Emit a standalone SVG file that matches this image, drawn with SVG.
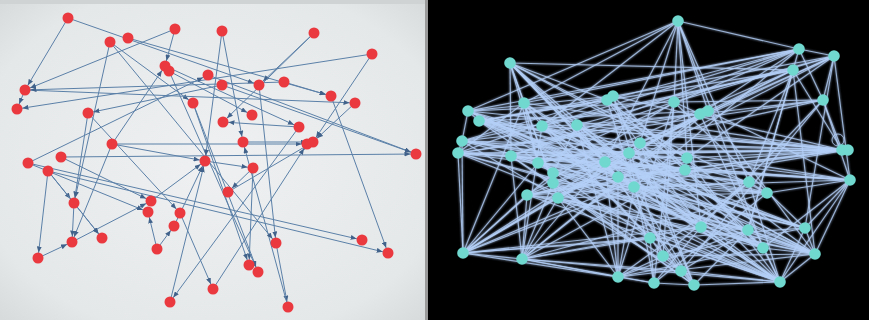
<svg xmlns="http://www.w3.org/2000/svg" width="869" height="320" viewBox="0 0 869 320">
<style>
.le{stroke:#5b80a8;stroke-width:1;fill:none;marker-end:url(#ah)}
.ln{fill:#ea3a40}
.re line{stroke:#b4cff8;stroke-width:1.15;stroke-opacity:.8}
.rn{fill:#70d8cf}
</style>
<defs>
<marker id="ah" viewBox="0 0 6 5" refX="11.5" refY="2.5" markerWidth="6" markerHeight="5" markerUnits="userSpaceOnUse" orient="auto"><path d="M0,0L6,2.5L0,5z" fill="#41628a"/></marker>
<radialGradient id="bgL" cx="50%" cy="50%" r="70%"><stop offset="0" stop-color="#eef0f1"/><stop offset="0.8" stop-color="#e5e8e9"/><stop offset="1" stop-color="#d7dbdc"/></radialGradient>
<filter id="glow" x="-5%" y="-5%" width="110%" height="110%"><feGaussianBlur stdDeviation="1.2" result="b"/><feMerge><feMergeNode in="b"/><feMergeNode in="SourceGraphic"/></feMerge></filter>
</defs>
<rect x="0" y="0" width="426" height="320" fill="url(#bgL)"/>
<rect x="0" y="0" width="426" height="4" fill="#d0d3d4"/>
<rect x="425" y="0" width="3" height="320" fill="#9a9a9a"/>
<rect x="428" y="0" width="441" height="320" fill="#000"/>

<g id="connectors-left">
<line class="le" x1="68" y1="18" x2="25" y2="90"/>
<line class="le" x1="68" y1="18" x2="259" y2="85"/>
<line class="le" x1="175" y1="29" x2="25" y2="90"/>
<line class="le" x1="175" y1="29" x2="165" y2="66"/>
<line class="le" x1="128" y1="38" x2="331" y2="96"/>
<line class="le" x1="110" y1="42" x2="193" y2="103"/>
<line class="le" x1="110" y1="42" x2="74" y2="203"/>
<line class="le" x1="25" y1="90" x2="17" y2="109"/>
<line class="le" x1="372" y1="54" x2="17" y2="109"/>
<line class="le" x1="25" y1="90" x2="355" y2="103"/>
<line class="le" x1="284" y1="82" x2="25" y2="90"/>
<line class="le" x1="222" y1="85" x2="88" y2="113"/>
<line class="le" x1="88" y1="113" x2="180" y2="213"/>
<line class="le" x1="112" y1="144" x2="307" y2="144"/>
<line class="le" x1="112" y1="144" x2="165" y2="66"/>
<line class="le" x1="112" y1="144" x2="205" y2="161"/>
<line class="le" x1="165" y1="66" x2="299" y2="127"/>
<line class="le" x1="169" y1="71" x2="252" y2="115"/>
<line class="le" x1="28" y1="163" x2="362" y2="240"/>
<line class="le" x1="48" y1="171" x2="388" y2="253"/>
<line class="le" x1="48" y1="171" x2="38" y2="258"/>
<line class="le" x1="48" y1="171" x2="74" y2="203"/>
<line class="le" x1="74" y1="203" x2="102" y2="238"/>
<line class="le" x1="74" y1="203" x2="72" y2="242"/>
<line class="le" x1="38" y1="258" x2="72" y2="242"/>
<line class="le" x1="72" y1="242" x2="151" y2="201"/>
<line class="le" x1="151" y1="201" x2="205" y2="161"/>
<line class="le" x1="61" y1="157" x2="151" y2="201"/>
<line class="le" x1="61" y1="157" x2="416" y2="154"/>
<line class="le" x1="157" y1="249" x2="174" y2="226"/>
<line class="le" x1="174" y1="226" x2="205" y2="161"/>
<line class="le" x1="180" y1="213" x2="213" y2="289"/>
<line class="le" x1="170" y1="302" x2="205" y2="161"/>
<line class="le" x1="299" y1="127" x2="170" y2="302"/>
<line class="le" x1="213" y1="289" x2="307" y2="144"/>
<line class="le" x1="205" y1="161" x2="253" y2="168"/>
<line class="le" x1="253" y1="168" x2="228" y2="192"/>
<line class="le" x1="253" y1="168" x2="249" y2="265"/>
<line class="le" x1="228" y1="192" x2="313" y2="142"/>
<line class="le" x1="276" y1="243" x2="288" y2="307"/>
<line class="le" x1="288" y1="307" x2="243" y2="142"/>
<line class="le" x1="331" y1="96" x2="388" y2="253"/>
<line class="le" x1="193" y1="103" x2="249" y2="265"/>
<line class="le" x1="169" y1="71" x2="258" y2="272"/>
<line class="le" x1="222" y1="31" x2="243" y2="142"/>
<line class="le" x1="222" y1="31" x2="205" y2="161"/>
<line class="le" x1="314" y1="33" x2="259" y2="85"/>
<line class="le" x1="314" y1="33" x2="223" y2="122"/>
<line class="le" x1="372" y1="54" x2="313" y2="142"/>
<line class="le" x1="284" y1="82" x2="331" y2="96"/>
<line class="le" x1="259" y1="85" x2="276" y2="243"/>
<line class="le" x1="299" y1="127" x2="223" y2="122"/>
<line class="le" x1="243" y1="142" x2="312" y2="142"/>
<line class="le" x1="208" y1="75" x2="416" y2="154"/>
<line class="le" x1="28" y1="163" x2="208" y2="75"/>
<line class="le" x1="110" y1="42" x2="276" y2="243"/>
<line class="le" x1="193" y1="103" x2="258" y2="272"/>
<line class="le" x1="48" y1="171" x2="102" y2="238"/>
<line class="le" x1="88" y1="113" x2="74" y2="203"/>
<line class="le" x1="112" y1="144" x2="72" y2="242"/>
<line class="le" x1="222" y1="85" x2="416" y2="154"/>
<line class="le" x1="355" y1="103" x2="313" y2="142"/>
<line class="le" x1="157" y1="249" x2="148" y2="212"/>
<line class="le" x1="28" y1="163" x2="148" y2="212"/>
</g>

<g id="nodes-left" class="ln">
<g id="a1"><circle cx="68" cy="18" r="5.5"/></g>
<g id="a2"><circle cx="175" cy="29" r="5.5"/></g>
<g id="a3"><circle cx="222" cy="31" r="5.5"/></g>
<g id="a4"><circle cx="314" cy="33" r="5.5"/></g>
<g id="a5"><circle cx="110" cy="42" r="5.5"/></g>
<g id="a6"><circle cx="128" cy="38" r="5.5"/></g>
<g id="a7"><circle cx="372" cy="54" r="5.5"/></g>
<g id="a8"><circle cx="165" cy="66" r="5.5"/></g>
<g id="a9"><circle cx="169" cy="71" r="5.5"/></g>
<g id="a10"><circle cx="208" cy="75" r="5.5"/></g>
<g id="a11"><circle cx="25" cy="90" r="5.5"/></g>
<g id="a12"><circle cx="222" cy="85" r="5.5"/></g>
<g id="a13"><circle cx="259" cy="85" r="5.5"/></g>
<g id="a14"><circle cx="284" cy="82" r="5.5"/></g>
<g id="a15"><circle cx="17" cy="109" r="5.5"/></g>
<g id="a16"><circle cx="193" cy="103" r="5.5"/></g>
<g id="a17"><circle cx="88" cy="113" r="5.5"/></g>
<g id="a18"><circle cx="331" cy="96" r="5.5"/></g>
<g id="a19"><circle cx="355" cy="103" r="5.5"/></g>
<g id="a20"><circle cx="252" cy="115" r="5.5"/></g>
<g id="a21"><circle cx="223" cy="122" r="5.5"/></g>
<g id="a22"><circle cx="299" cy="127" r="5.5"/></g>
<g id="a23"><circle cx="112" cy="144" r="5.5"/></g>
<g id="a24"><circle cx="243" cy="142" r="5.5"/></g>
<g id="a25"><circle cx="307" cy="144" r="5.5"/></g>
<g id="a26"><circle cx="313" cy="142" r="5.5"/></g>
<g id="a27"><circle cx="416" cy="154" r="5.5"/></g>
<g id="a28"><circle cx="61" cy="157" r="5.5"/></g>
<g id="a29"><circle cx="28" cy="163" r="5.5"/></g>
<g id="a30"><circle cx="205" cy="161" r="5.5"/></g>
<g id="a31"><circle cx="48" cy="171" r="5.5"/></g>
<g id="a32"><circle cx="253" cy="168" r="5.5"/></g>
<g id="a33"><circle cx="228" cy="192" r="5.5"/></g>
<g id="a34"><circle cx="74" cy="203" r="5.5"/></g>
<g id="a35"><circle cx="151" cy="201" r="5.5"/></g>
<g id="a36"><circle cx="148" cy="212" r="5.5"/></g>
<g id="a37"><circle cx="180" cy="213" r="5.5"/></g>
<g id="a38"><circle cx="174" cy="226" r="5.5"/></g>
<g id="a39"><circle cx="102" cy="238" r="5.5"/></g>
<g id="a40"><circle cx="72" cy="242" r="5.5"/></g>
<g id="a41"><circle cx="157" cy="249" r="5.5"/></g>
<g id="a42"><circle cx="276" cy="243" r="5.5"/></g>
<g id="a43"><circle cx="362" cy="240" r="5.5"/></g>
<g id="a44"><circle cx="38" cy="258" r="5.5"/></g>
<g id="a45"><circle cx="388" cy="253" r="5.5"/></g>
<g id="a46"><circle cx="249" cy="265" r="5.5"/></g>
<g id="a47"><circle cx="258" cy="272" r="5.5"/></g>
<g id="a48"><circle cx="213" cy="289" r="5.5"/></g>
<g id="a49"><circle cx="170" cy="302" r="5.5"/></g>
<g id="a50"><circle cx="288" cy="307" r="5.5"/></g>
</g>

<g id="connectors-right" class="re" filter="url(#glow)">
<line x1="678" y1="21" x2="524" y2="103"/><line x1="678" y1="21" x2="468" y2="111"/><line x1="678" y1="21" x2="674" y2="102"/><line x1="678" y1="21" x2="708" y2="111"/><line x1="678" y1="21" x2="749" y2="182"/><line x1="678" y1="21" x2="687" y2="158"/><line x1="678" y1="21" x2="701" y2="227"/><line x1="678" y1="21" x2="640" y2="143"/><line x1="678" y1="21" x2="799" y2="49"/><line x1="678" y1="21" x2="605" y2="162"/><line x1="678" y1="21" x2="763" y2="248"/><line x1="678" y1="21" x2="542" y2="126"/>
<line x1="799" y1="49" x2="834" y2="56"/><line x1="799" y1="49" x2="468" y2="111"/><line x1="799" y1="49" x2="524" y2="103"/><line x1="799" y1="49" x2="542" y2="126"/><line x1="799" y1="49" x2="607" y2="100"/><line x1="799" y1="49" x2="700" y2="114"/><line x1="799" y1="49" x2="511" y2="156"/><line x1="799" y1="49" x2="538" y2="163"/><line x1="799" y1="49" x2="748" y2="230"/><line x1="799" y1="49" x2="823" y2="100"/><line x1="799" y1="49" x2="634" y2="187"/>
<line x1="834" y1="56" x2="823" y2="100"/><line x1="834" y1="56" x2="577" y2="125"/><line x1="834" y1="56" x2="640" y2="143"/><line x1="834" y1="56" x2="687" y2="158"/><line x1="834" y1="56" x2="479" y2="121"/><line x1="834" y1="56" x2="605" y2="162"/><line x1="834" y1="56" x2="805" y2="228"/><line x1="834" y1="56" x2="674" y2="102"/><line x1="834" y1="56" x2="558" y2="198"/><line x1="834" y1="56" x2="850" y2="180"/>
<line x1="510" y1="63" x2="793" y2="70"/><line x1="510" y1="63" x2="577" y2="125"/><line x1="510" y1="63" x2="607" y2="100"/><line x1="510" y1="63" x2="605" y2="162"/><line x1="510" y1="63" x2="618" y2="177"/><line x1="510" y1="63" x2="634" y2="187"/><line x1="510" y1="63" x2="687" y2="158"/><line x1="510" y1="63" x2="511" y2="156"/><line x1="510" y1="63" x2="538" y2="163"/><line x1="510" y1="63" x2="553" y2="183"/><line x1="510" y1="63" x2="701" y2="227"/><line x1="510" y1="63" x2="767" y2="193"/><line x1="510" y1="63" x2="524" y2="103"/>
<line x1="793" y1="70" x2="842" y2="150"/><line x1="793" y1="70" x2="749" y2="182"/><line x1="793" y1="70" x2="748" y2="230"/><line x1="793" y1="70" x2="542" y2="126"/><line x1="793" y1="70" x2="479" y2="121"/><line x1="793" y1="70" x2="462" y2="141"/><line x1="793" y1="70" x2="708" y2="111"/><line x1="793" y1="70" x2="815" y2="254"/><line x1="793" y1="70" x2="553" y2="173"/><line x1="793" y1="70" x2="629" y2="153"/>
<line x1="607" y1="100" x2="613" y2="96"/><line x1="613" y1="96" x2="462" y2="141"/><line x1="607" y1="100" x2="458" y2="153"/><line x1="607" y1="100" x2="650" y2="238"/><line x1="613" y1="96" x2="663" y2="256"/><line x1="607" y1="100" x2="685" y2="170"/><line x1="613" y1="96" x2="842" y2="150"/><line x1="607" y1="100" x2="701" y2="227"/><line x1="613" y1="96" x2="694" y2="285"/><line x1="607" y1="100" x2="479" y2="121"/><line x1="613" y1="96" x2="468" y2="111"/>
<line x1="524" y1="103" x2="542" y2="126"/><line x1="524" y1="103" x2="458" y2="153"/><line x1="524" y1="103" x2="558" y2="198"/><line x1="524" y1="103" x2="842" y2="150"/><line x1="524" y1="103" x2="763" y2="248"/><line x1="524" y1="103" x2="538" y2="163"/><line x1="524" y1="103" x2="650" y2="238"/><line x1="524" y1="103" x2="463" y2="253"/>
<line x1="823" y1="100" x2="842" y2="150"/><line x1="823" y1="100" x2="458" y2="153"/><line x1="823" y1="100" x2="462" y2="141"/><line x1="823" y1="100" x2="674" y2="102"/><line x1="823" y1="100" x2="850" y2="180"/><line x1="823" y1="100" x2="538" y2="163"/><line x1="823" y1="100" x2="701" y2="227"/><line x1="823" y1="100" x2="681" y2="271"/>
<line x1="674" y1="102" x2="700" y2="114"/><line x1="674" y1="102" x2="468" y2="111"/><line x1="674" y1="102" x2="511" y2="156"/><line x1="674" y1="102" x2="663" y2="256"/><line x1="674" y1="102" x2="654" y2="283"/><line x1="674" y1="102" x2="527" y2="195"/><line x1="674" y1="102" x2="805" y2="228"/>
<line x1="700" y1="114" x2="708" y2="111"/><line x1="700" y1="114" x2="458" y2="153"/><line x1="700" y1="114" x2="780" y2="282"/><line x1="700" y1="114" x2="558" y2="198"/><line x1="700" y1="114" x2="522" y2="259"/>
<line x1="708" y1="111" x2="479" y2="121"/><line x1="708" y1="111" x2="815" y2="254"/><line x1="708" y1="111" x2="850" y2="180"/><line x1="708" y1="111" x2="553" y2="183"/>
<line x1="468" y1="111" x2="479" y2="121"/><line x1="468" y1="111" x2="462" y2="141"/><line x1="468" y1="111" x2="848" y2="150"/><line x1="468" y1="111" x2="748" y2="230"/><line x1="468" y1="111" x2="767" y2="193"/><line x1="468" y1="111" x2="634" y2="187"/><line x1="468" y1="111" x2="618" y2="177"/>
<line x1="479" y1="121" x2="842" y2="150"/><line x1="479" y1="121" x2="763" y2="248"/><line x1="479" y1="121" x2="780" y2="282"/><line x1="479" y1="121" x2="805" y2="228"/><line x1="479" y1="121" x2="685" y2="170"/><line x1="479" y1="121" x2="640" y2="143"/>
<line x1="542" y1="126" x2="577" y2="125"/><line x1="542" y1="126" x2="848" y2="150"/><line x1="542" y1="126" x2="780" y2="282"/><line x1="542" y1="126" x2="805" y2="228"/><line x1="542" y1="126" x2="749" y2="182"/><line x1="542" y1="126" x2="618" y2="177"/><line x1="542" y1="126" x2="522" y2="259"/>
<line x1="577" y1="125" x2="842" y2="150"/><line x1="577" y1="125" x2="618" y2="277"/><line x1="577" y1="125" x2="815" y2="254"/><line x1="577" y1="125" x2="701" y2="227"/><line x1="577" y1="125" x2="553" y2="173"/><line x1="577" y1="125" x2="700" y2="114"/>
<line x1="462" y1="141" x2="458" y2="153"/><line x1="462" y1="141" x2="463" y2="253"/><line x1="462" y1="141" x2="842" y2="150"/><line x1="462" y1="141" x2="767" y2="193"/><line x1="462" y1="141" x2="681" y2="271"/><line x1="462" y1="141" x2="687" y2="158"/>
<line x1="458" y1="153" x2="511" y2="156"/><line x1="458" y1="153" x2="848" y2="150"/><line x1="458" y1="153" x2="748" y2="230"/><line x1="458" y1="153" x2="815" y2="254"/><line x1="458" y1="153" x2="780" y2="282"/><line x1="458" y1="153" x2="605" y2="162"/><line x1="458" y1="153" x2="463" y2="253"/>
<line x1="640" y1="143" x2="629" y2="153"/><line x1="640" y1="143" x2="842" y2="150"/><line x1="640" y1="143" x2="538" y2="163"/><line x1="640" y1="143" x2="694" y2="285"/><line x1="640" y1="143" x2="763" y2="248"/>
<line x1="629" y1="153" x2="848" y2="150"/><line x1="629" y1="153" x2="463" y2="253"/><line x1="629" y1="153" x2="850" y2="180"/><line x1="629" y1="153" x2="654" y2="283"/><line x1="629" y1="153" x2="527" y2="195"/>
<line x1="511" y1="156" x2="842" y2="150"/><line x1="511" y1="156" x2="850" y2="180"/><line x1="511" y1="156" x2="805" y2="228"/><line x1="511" y1="156" x2="694" y2="285"/><line x1="511" y1="156" x2="522" y2="259"/><line x1="511" y1="156" x2="538" y2="163"/><line x1="511" y1="156" x2="749" y2="182"/>
<line x1="687" y1="158" x2="685" y2="170"/><line x1="687" y1="158" x2="848" y2="150"/><line x1="687" y1="158" x2="458" y2="153"/><line x1="687" y1="158" x2="463" y2="253"/><line x1="687" y1="158" x2="780" y2="282"/>
<line x1="685" y1="170" x2="462" y2="141"/><line x1="685" y1="170" x2="850" y2="180"/><line x1="685" y1="170" x2="522" y2="259"/><line x1="685" y1="170" x2="527" y2="195"/><line x1="685" y1="170" x2="763" y2="248"/>
<line x1="538" y1="163" x2="553" y2="173"/><line x1="538" y1="163" x2="850" y2="180"/><line x1="538" y1="163" x2="815" y2="254"/><line x1="538" y1="163" x2="780" y2="282"/><line x1="538" y1="163" x2="463" y2="253"/><line x1="538" y1="163" x2="763" y2="248"/>
<line x1="553" y1="173" x2="553" y2="183"/><line x1="553" y1="173" x2="842" y2="150"/><line x1="553" y1="173" x2="805" y2="228"/><line x1="553" y1="173" x2="463" y2="253"/>
<line x1="553" y1="183" x2="767" y2="193"/><line x1="553" y1="183" x2="780" y2="282"/><line x1="553" y1="183" x2="694" y2="285"/><line x1="553" y1="183" x2="522" y2="259"/><line x1="553" y1="183" x2="748" y2="230"/>
<line x1="605" y1="162" x2="618" y2="177"/><line x1="605" y1="162" x2="850" y2="180"/><line x1="605" y1="162" x2="815" y2="254"/><line x1="605" y1="162" x2="463" y2="253"/><line x1="605" y1="162" x2="522" y2="259"/><line x1="605" y1="162" x2="618" y2="277"/><line x1="605" y1="162" x2="681" y2="271"/>
<line x1="618" y1="177" x2="634" y2="187"/><line x1="618" y1="177" x2="842" y2="150"/><line x1="618" y1="177" x2="780" y2="282"/><line x1="618" y1="177" x2="763" y2="248"/><line x1="618" y1="177" x2="618" y2="277"/><line x1="618" y1="177" x2="527" y2="195"/>
<line x1="634" y1="187" x2="850" y2="180"/><line x1="634" y1="187" x2="805" y2="228"/><line x1="634" y1="187" x2="815" y2="254"/><line x1="634" y1="187" x2="463" y2="253"/><line x1="634" y1="187" x2="618" y2="277"/><line x1="634" y1="187" x2="694" y2="285"/>
<line x1="527" y1="195" x2="558" y2="198"/><line x1="527" y1="195" x2="749" y2="182"/><line x1="527" y1="195" x2="748" y2="230"/><line x1="527" y1="195" x2="463" y2="253"/><line x1="527" y1="195" x2="522" y2="259"/><line x1="527" y1="195" x2="780" y2="282"/><line x1="527" y1="195" x2="815" y2="254"/>
<line x1="558" y1="198" x2="767" y2="193"/><line x1="558" y1="198" x2="763" y2="248"/><line x1="558" y1="198" x2="463" y2="253"/><line x1="558" y1="198" x2="522" y2="259"/><line x1="558" y1="198" x2="618" y2="277"/><line x1="558" y1="198" x2="815" y2="254"/><line x1="558" y1="198" x2="780" y2="282"/>
<line x1="749" y1="182" x2="767" y2="193"/><line x1="749" y1="182" x2="780" y2="282"/><line x1="749" y1="182" x2="618" y2="277"/><line x1="749" y1="182" x2="663" y2="256"/>
<line x1="767" y1="193" x2="654" y2="283"/><line x1="767" y1="193" x2="522" y2="259"/><line x1="767" y1="193" x2="850" y2="180"/>
<line x1="850" y1="180" x2="815" y2="254"/><line x1="850" y1="180" x2="805" y2="228"/><line x1="850" y1="180" x2="780" y2="282"/><line x1="850" y1="180" x2="763" y2="248"/>
<line x1="701" y1="227" x2="748" y2="230"/><line x1="701" y1="227" x2="780" y2="282"/><line x1="701" y1="227" x2="522" y2="259"/><line x1="701" y1="227" x2="654" y2="283"/><line x1="701" y1="227" x2="463" y2="253"/>
<line x1="748" y1="230" x2="815" y2="254"/><line x1="748" y1="230" x2="694" y2="285"/><line x1="748" y1="230" x2="618" y2="277"/><line x1="748" y1="230" x2="681" y2="271"/>
<line x1="805" y1="228" x2="815" y2="254"/><line x1="805" y1="228" x2="780" y2="282"/><line x1="805" y1="228" x2="463" y2="253"/><line x1="805" y1="228" x2="663" y2="256"/>
<line x1="650" y1="238" x2="663" y2="256"/><line x1="650" y1="238" x2="463" y2="253"/><line x1="650" y1="238" x2="522" y2="259"/><line x1="650" y1="238" x2="654" y2="283"/><line x1="650" y1="238" x2="780" y2="282"/>
<line x1="663" y1="256" x2="618" y2="277"/><line x1="663" y1="256" x2="681" y2="271"/><line x1="663" y1="256" x2="815" y2="254"/>
<line x1="681" y1="271" x2="694" y2="285"/><line x1="681" y1="271" x2="780" y2="282"/><line x1="681" y1="271" x2="522" y2="259"/>
<line x1="763" y1="248" x2="780" y2="282"/><line x1="763" y1="248" x2="815" y2="254"/><line x1="763" y1="248" x2="618" y2="277"/>
<line x1="815" y1="254" x2="780" y2="282"/><line x1="815" y1="254" x2="618" y2="277"/>
<line x1="654" y1="283" x2="694" y2="285"/><line x1="654" y1="283" x2="522" y2="259"/><line x1="654" y1="283" x2="618" y2="277"/>
<line x1="694" y1="285" x2="780" y2="282"/>
<line x1="463" y1="253" x2="522" y2="259"/><line x1="463" y1="253" x2="618" y2="277"/>
<line x1="522" y1="259" x2="618" y2="277"/><line x1="522" y1="259" x2="780" y2="282"/>
<line x1="458" y1="153" x2="767" y2="193"/><line x1="462" y1="141" x2="749" y2="182"/><line x1="468" y1="111" x2="805" y2="228"/><line x1="479" y1="121" x2="850" y2="180"/><line x1="511" y1="156" x2="763" y2="248"/><line x1="524" y1="103" x2="780" y2="282"/><line x1="542" y1="126" x2="815" y2="254"/><line x1="577" y1="125" x2="780" y2="282"/><line x1="607" y1="100" x2="815" y2="254"/><line x1="613" y1="96" x2="748" y2="230"/>
<line x1="640" y1="143" x2="780" y2="282"/><line x1="629" y1="153" x2="815" y2="254"/><line x1="674" y1="102" x2="618" y2="277"/><line x1="700" y1="114" x2="463" y2="253"/><line x1="708" y1="111" x2="522" y2="259"/><line x1="687" y1="158" x2="527" y2="195"/><line x1="685" y1="170" x2="458" y2="153"/><line x1="538" y1="163" x2="749" y2="182"/><line x1="553" y1="173" x2="767" y2="193"/><line x1="605" y1="162" x2="805" y2="228"/>
<line x1="618" y1="177" x2="848" y2="150"/><line x1="634" y1="187" x2="462" y2="141"/><line x1="527" y1="195" x2="842" y2="150"/><line x1="558" y1="198" x2="848" y2="150"/><line x1="701" y1="227" x2="468" y2="111"/><line x1="748" y1="230" x2="479" y2="121"/><line x1="650" y1="238" x2="479" y2="121"/><line x1="663" y1="256" x2="511" y2="156"/><line x1="681" y1="271" x2="542" y2="126"/><line x1="694" y1="285" x2="577" y2="125"/>
<circle cx="838" cy="140" r="6" fill="none" stroke="#b4cff8" stroke-width="1" stroke-opacity=".8"/>
</g>

<g id="nodes-right" class="rn">
<g id="b1"><circle cx="678" cy="21" r="5.8"/></g>
<g id="b2"><circle cx="799" cy="49" r="5.8"/></g>
<g id="b3"><circle cx="834" cy="56" r="5.8"/></g>
<g id="b4"><circle cx="510" cy="63" r="5.8"/></g>
<g id="b5"><circle cx="793" cy="70" r="5.8"/></g>
<g id="b6"><circle cx="607" cy="100" r="5.8"/></g>
<g id="b7"><circle cx="613" cy="96" r="5.8"/></g>
<g id="b8"><circle cx="524" cy="103" r="5.8"/></g>
<g id="b9"><circle cx="823" cy="100" r="5.8"/></g>
<g id="b10"><circle cx="674" cy="102" r="5.8"/></g>
<g id="b11"><circle cx="700" cy="114" r="5.8"/></g>
<g id="b12"><circle cx="708" cy="111" r="5.8"/></g>
<g id="b13"><circle cx="468" cy="111" r="5.8"/></g>
<g id="b14"><circle cx="479" cy="121" r="5.8"/></g>
<g id="b15"><circle cx="542" cy="126" r="5.8"/></g>
<g id="b16"><circle cx="577" cy="125" r="5.8"/></g>
<g id="b17"><circle cx="462" cy="141" r="5.8"/></g>
<g id="b18"><circle cx="458" cy="153" r="5.8"/></g>
<g id="b19"><circle cx="640" cy="143" r="5.8"/></g>
<g id="b20"><circle cx="629" cy="153" r="5.8"/></g>
<g id="b21"><circle cx="511" cy="156" r="5.8"/></g>
<g id="b22"><circle cx="842" cy="150" r="5.8"/></g>
<g id="b23"><circle cx="848" cy="150" r="5.8"/></g>
<g id="b24"><circle cx="687" cy="158" r="5.8"/></g>
<g id="b25"><circle cx="685" cy="170" r="5.8"/></g>
<g id="b26"><circle cx="538" cy="163" r="5.8"/></g>
<g id="b27"><circle cx="553" cy="173" r="5.8"/></g>
<g id="b28"><circle cx="553" cy="183" r="5.8"/></g>
<g id="b29"><circle cx="605" cy="162" r="5.8"/></g>
<g id="b30"><circle cx="618" cy="177" r="5.8"/></g>
<g id="b31"><circle cx="634" cy="187" r="5.8"/></g>
<g id="b32"><circle cx="527" cy="195" r="5.8"/></g>
<g id="b33"><circle cx="558" cy="198" r="5.8"/></g>
<g id="b34"><circle cx="749" cy="182" r="5.8"/></g>
<g id="b35"><circle cx="767" cy="193" r="5.8"/></g>
<g id="b36"><circle cx="850" cy="180" r="5.8"/></g>
<g id="b37"><circle cx="701" cy="227" r="5.8"/></g>
<g id="b38"><circle cx="748" cy="230" r="5.8"/></g>
<g id="b39"><circle cx="805" cy="228" r="5.8"/></g>
<g id="b40"><circle cx="650" cy="238" r="5.8"/></g>
<g id="b41"><circle cx="663" cy="256" r="5.8"/></g>
<g id="b42"><circle cx="681" cy="271" r="5.8"/></g>
<g id="b43"><circle cx="763" cy="248" r="5.8"/></g>
<g id="b44"><circle cx="815" cy="254" r="5.8"/></g>
<g id="b45"><circle cx="654" cy="283" r="5.8"/></g>
<g id="b46"><circle cx="694" cy="285" r="5.8"/></g>
<g id="b47"><circle cx="780" cy="282" r="5.8"/></g>
<g id="b48"><circle cx="463" cy="253" r="5.8"/></g>
<g id="b49"><circle cx="522" cy="259" r="5.8"/></g>
<g id="b50"><circle cx="618" cy="277" r="5.8"/></g>
</g>
</svg>
